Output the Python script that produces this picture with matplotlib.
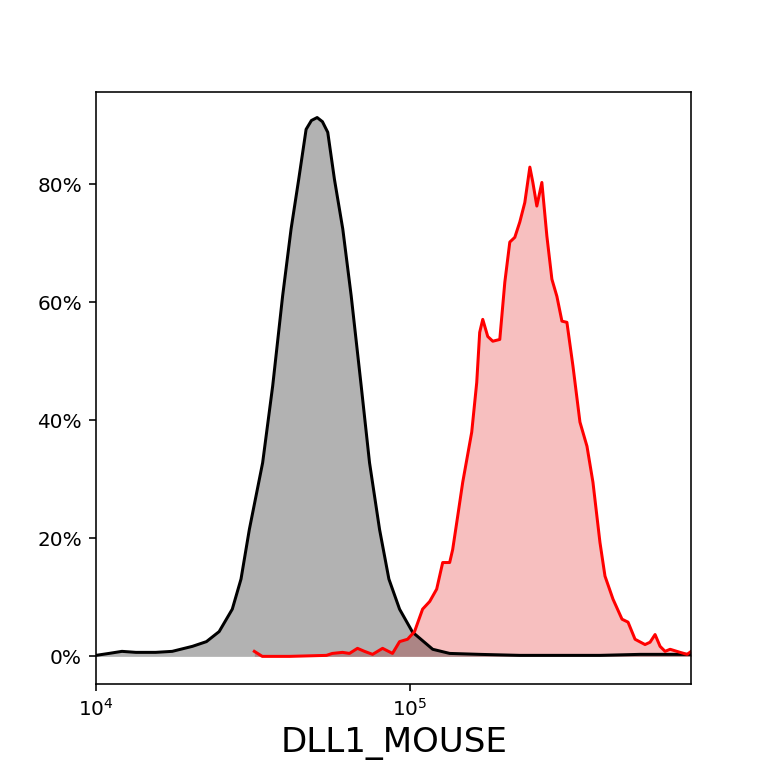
import matplotlib
matplotlib.use("Agg")
import matplotlib.pyplot as plt
from matplotlib.ticker import FuncFormatter, NullLocator, LogLocator

# Control (black/grey) histogram: intensity vs. percent of max
ctrl_x = [10000, 11000, 12100, 13400, 15500, 17500, 20300, 22500, 24700, 27200,
          29000, 30830, 33990, 36590, 39370, 41880, 44290, 46770, 48630, 50720,
          52730, 54830, 57600, 61230, 65120, 70100, 74520, 80210, 85900, 92900,
          102200, 118500, 134200, 167300, 224600, 301500, 404600, 542900, 790600]
ctrl_y = [0.17, 0.5, 0.85, 0.68, 0.68, 0.85, 1.7, 2.5, 4.2, 8.0,
          13.1, 21.5, 32.8, 45.8, 61.1, 72.4, 80.8, 89.3, 90.8, 91.3,
          90.6, 88.8, 80.8, 72.4, 61.1, 45.8, 32.8, 21.5, 13.1, 8.0,
          4.1, 1.2, 0.5, 0.34, 0.17, 0.17, 0.17, 0.34, 0.34]

# Stained sample (red) histogram
samp_x = [31980, 33900, 41400, 54300, 56700, 61100, 64300, 68200, 71800, 76200,
          82000, 88200, 92900, 98500, 103700, 110000, 115900, 122000, 127500, 134200,
          137200, 142300, 147700, 157800, 163700, 167300, 171100, 177500, 184200, 193900,
          201200, 208700, 216500, 224600, 233000, 241800, 247200, 254500, 264100, 274000,
          284300, 294900, 306000, 317400, 331800, 349300, 367800, 384300, 404600, 419800,
          445200, 475700, 497200, 523500, 563300, 584500, 606400, 629100, 652700, 677200,
          728800, 767400, 790600]
samp_y = [0.85, 0.0, 0.0, 0.17, 0.5, 0.68, 0.5, 1.36, 0.85, 0.34,
          1.36, 0.5, 2.5, 2.9, 4.2, 8.0, 9.3, 11.4, 15.9, 15.9,
          18.1, 23.7, 29.5, 38.0, 46.4, 54.9, 57.1, 54.2, 53.4, 53.7,
          63.4, 70.2, 71.0, 73.6, 76.9, 82.9, 80.3, 76.3, 80.3, 71.2,
          63.9, 61.0, 56.8, 56.6, 49.2, 39.7, 35.6, 29.5, 19.3, 13.6,
          9.7, 6.3, 5.8, 2.9, 2.0, 2.4, 3.7, 1.7, 0.85, 1.2,
          0.68, 0.34, 0.85]

y_ticks = [0, 20, 40, 60, 80]
x_label = "DLL1_MOUSE"

fig, ax = plt.subplots(figsize=(768 / 144, 768 / 144), dpi=144)

ax.fill_between(samp_x, samp_y, 0, color="lightcoral", alpha=0.5, linewidth=0)
ax.fill_between(ctrl_x, ctrl_y, 0, color="black", alpha=0.3, linewidth=0)
ax.plot(ctrl_x, ctrl_y, color="black", linewidth=1.5)
ax.plot(samp_x, samp_y, color="#ff0000", linewidth=1.5)

ax.set_xscale("log")
ax.set_xlim(1e4, 7.906e5)
ax.set_ylim(-4.6, 95.6)
ax.xaxis.set_major_locator(LogLocator(base=10))
ax.xaxis.set_minor_locator(NullLocator())
ax.set_yticks(y_ticks)
ax.yaxis.set_major_formatter(FuncFormatter(lambda v, p: f"{v:.0f}%"))
ax.set_xlabel(x_label, fontsize=17)

fig.savefig("out.png", dpi=144)
